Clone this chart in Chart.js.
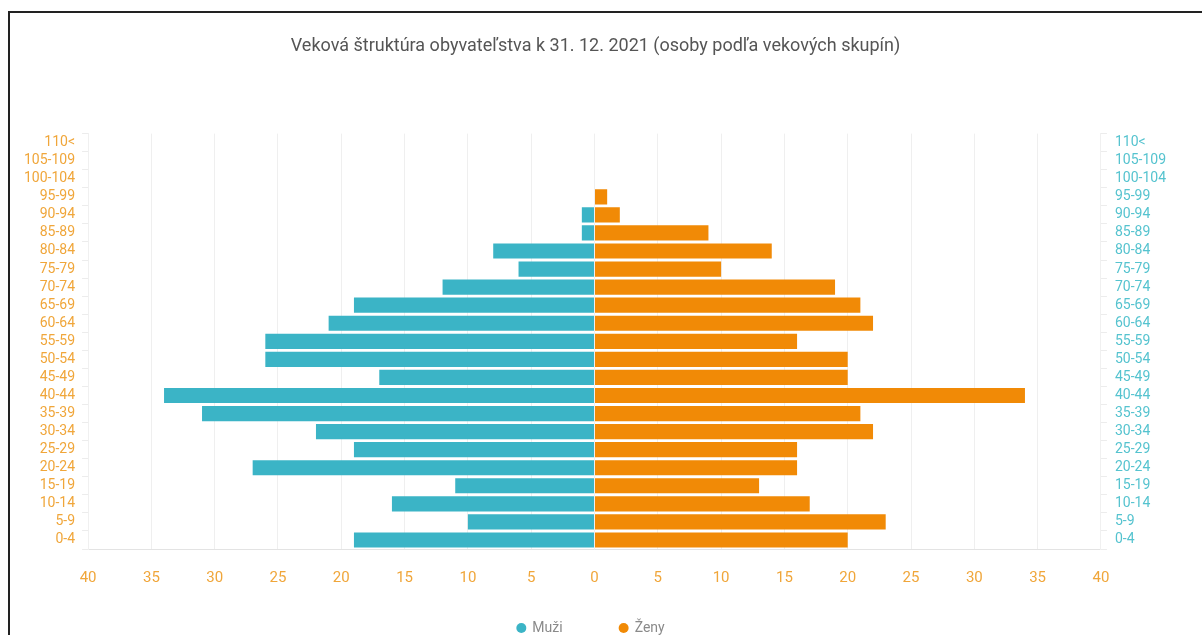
<!DOCTYPE html>
<html>
<head>
<meta charset="utf-8">
<script src="https://cdn.jsdelivr.net/npm/chart.js@4.4.0/dist/chart.umd.min.js"></script>
<style>
  body { margin: 0; background: #fff; overflow: hidden; }
  #frame {
    position: absolute; left: 8px; top: 11px;
    width: 1200px; height: 640px;
    border: 2px solid #222; box-sizing: border-box;
  }
  #wrap { position: absolute; left: 2px; top: 0px; width: 1190px; height: 622px; }
</style>
</head>
<body>
<div id="frame"><div id="wrap"><canvas id="pyramid"></canvas></div></div>
<script>
// age groups, bottom to top
const ageGroups = ["0-4", "5-9", "10-14", "15-19", "20-24", "25-29", "30-34", "35-39", "40-44", "45-49",
  "50-54", "55-59", "60-64", "65-69", "70-74", "75-79", "80-84", "85-89", "90-94", "95-99",
  "100-104", "105-109", "110<"];
// persons per age group
const muzi = [19, 10, 16, 11, 27, 19, 22, 31, 34, 17, 26, 26, 21, 19, 12, 6, 8, 1, 1, 0, 0, 0, 0];
const zeny = [20, 23, 17, 13, 16, 16, 22, 21, 34, 20, 20, 16, 22, 21, 19, 10, 14, 9, 2, 1, 0, 0, 0];
const xTicks = [-40, -35, -30, -25, -20, -15, -10, -5, 0, 5, 10, 15, 20, 25, 30, 35, 40];

const teal = "#3bb4c6";
const orange = "#f18a06";
const fontFam = "Roboto, 'Noto Sans', sans-serif";

// legend with wide gaps between the two items
const bottomLegend = {
  id: "bottomLegend",
  afterDraw(chart) {
    const c = chart.ctx;
    const gap = 56, r = 5;
    c.save();
    c.font = "14px " + fontFam;
    c.textBaseline = "middle";
    const items = chart.data.datasets.map(ds => ({
      text: ds.label, color: ds.backgroundColor, w: 2 * r + 6 + c.measureText(ds.label).width
    }));
    const total = items.reduce((s, it) => s + it.w, 0) + gap * (items.length - 1);
    let x = (chart.chartArea.left + chart.chartArea.right) / 2 - total / 2 - 4;
    const y = chart.height - 7;
    items.forEach(it => {
      c.fillStyle = it.color;
      c.beginPath();
      c.arc(x + r, y, r, 0, Math.PI * 2);
      c.fill();
      c.fillStyle = "#8a8a8a";
      c.fillText(it.text, x + 2 * r + 6, y);
      x += it.w + gap;
    });
    c.restore();
  }
};

const ctx = document.getElementById("pyramid").getContext("2d");
new Chart(ctx, {
  type: "bar",
  data: {
    labels: ageGroups,
    datasets: [
      {
        label: "Muži",
        data: muzi.map(v => -v),
        backgroundColor: teal,
        barPercentage: 0.84,
        categoryPercentage: 1
      },
      {
        label: "Ženy",
        data: zeny,
        backgroundColor: orange,
        barPercentage: 0.84,
        categoryPercentage: 1
      }
    ]
  },
  options: {
    indexAxis: "y",
    responsive: true,
    maintainAspectRatio: false,
    animation: false,
    layout: { padding: { left: 5, right: 28, bottom: 28 } },
    scales: {
      x: {
        stacked: true,
        min: -40,
        max: 40,
        afterBuildTicks: axis => { axis.ticks = xTicks.map(v => ({ value: v })); },
        ticks: {
          color: "#f0a63a",
          font: { family: fontFam, size: 15 },
          callback: v => Math.abs(v),
          padding: 20
        },
        grid: { color: "#efefef", drawTicks: false },
        border: { color: "#e3e3e3" }
      },
      y: {
        stacked: true,
        reverse: true,
        ticks: {
          color: "#f0a63a",
          font: { family: fontFam, size: 14 },
          autoSkip: false,
          padding: 7
        },
        grid: { drawOnChartArea: false, color: "#ececec", tickLength: 6 },
        border: { color: "#f0f0f0" }
      },
      y2: {
        type: "category",
        position: "right",
        reverse: true,
        labels: ageGroups,
        ticks: {
          color: "#55c3cf",
          font: { family: fontFam, size: 14 },
          autoSkip: false,
          padding: 8
        },
        grid: { drawOnChartArea: false, color: "#ececec", tickLength: 6 },
        border: { color: "#f0f0f0" }
      }
    },
    plugins: {
      title: {
        display: true,
        text: "Veková štruktúra obyvateľstva k 31. 12. 2021 (osoby podľa vekových skupín)",
        color: "#555",
        font: { family: fontFam, size: 18, weight: "normal" },
        padding: { top: 23, bottom: 76 }
      },
      legend: { display: false },
      tooltip: { enabled: false }
    }
  },
  plugins: [bottomLegend]
});
</script>
</body>
</html>
